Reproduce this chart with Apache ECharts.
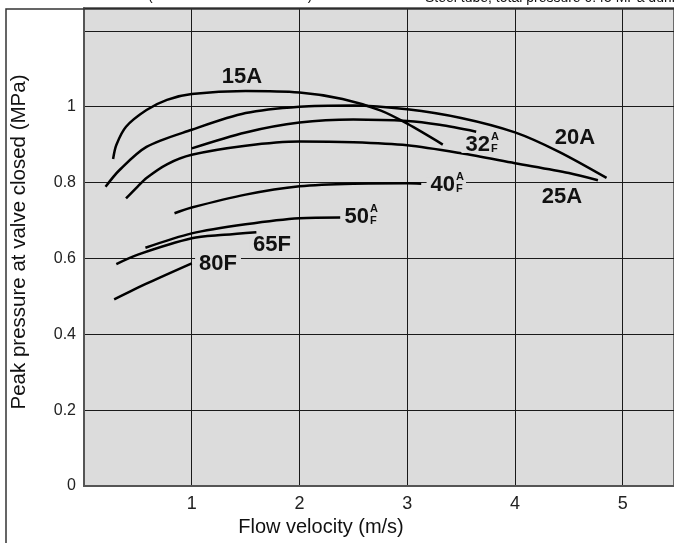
<!DOCTYPE html>
<html>
<head>
<meta charset="utf-8">
<script src="https://cdn.jsdelivr.net/npm/echarts@6/dist/echarts.min.js"></script>
<style>
html,body{margin:0;padding:0;background:#fff;}
#c{width:674px;height:543px;}
</style>
</head>
<body>
<div id="c"></div>
<script>
// ---- data (flow velocity m/s, peak pressure MPa) ----
const seriesNames = ['15A', '20A', '25A', '32A/F', '40A/F', '50A/F', '65F', '80F'];
const x15A = [0.27, 0.30, 0.39, 0.58, 0.77, 1.0, 1.5, 2.0, 2.4, 2.75, 3.0, 3.33];
const y15A = [0.862, 0.899, 0.947, 0.991, 1.018, 1.033, 1.041, 1.037, 1.02, 0.99, 0.955, 0.90];
const x20A = [0.2, 0.33, 0.58, 1.0, 1.5, 2.0, 2.5, 3.0, 3.5, 4.0, 4.4, 4.85];
const y20A = [0.789, 0.833, 0.894, 0.939, 0.983, 1.0, 1.003, 0.993, 0.97, 0.932, 0.882, 0.812];
const x25A = [0.39, 0.5, 0.58, 0.77, 1.0, 1.5, 2.0, 2.5, 3.0, 3.5, 4.0, 4.5, 4.77];
const y25A = [0.758, 0.79, 0.812, 0.848, 0.873, 0.897, 0.908, 0.906, 0.898, 0.877, 0.851, 0.825, 0.806];
const x32A = [1.0, 1.5, 2.0, 2.5, 3.0, 3.3, 3.64];
const y32A = [0.89, 0.932, 0.958, 0.966, 0.962, 0.952, 0.934];
const x40A = [0.84, 1.0, 1.5, 2.0, 2.5, 3.0, 3.13];
const y40A = [0.719, 0.734, 0.768, 0.79, 0.797, 0.798, 0.797];
const x50A = [0.57, 1.0, 1.5, 2.0, 2.38];
const y50A = [0.628, 0.666, 0.69, 0.706, 0.708];
const x65F = [0.3, 0.5, 1.0, 1.3, 1.6];
const y65F = [0.585, 0.61, 0.653, 0.662, 0.669];
const x80F = [0.28, 0.6, 1.0];
const y80F = [0.492, 0.536, 0.587];

const xTickLabels = ['1', '2', '3', '4', '5'];
const yTickLabels = ['0', '0.2', '0.4', '0.6', '0.8', '1'];

// curve annotations (data coordinates)
const labelText = ['15A', '20A', '25A', '32', '40', '50', '65F', '80F'];
const labelSub  = ['', '', '', 'A\nF', 'A\nF', 'A\nF', '', ''];
const labelX = [1.466, 4.557, 4.436, 3.777, 3.453, 2.654, 1.745, 1.244];
const labelY = [1.078, 0.917, 0.762, 0.899, 0.793, 0.710, 0.635, 0.585];

const xs = [x15A, x20A, x25A, x32A, x40A, x50A, x65F, x80F];
const ys = [y15A, y20A, y25A, y32A, y40A, y50A, y65F, y80F];

const FONT = '"Liberation Sans", Arial, Helvetica, sans-serif';
const chart = echarts.init(document.getElementById('c'), null, {renderer: 'canvas'});

function fmtTick(v, arr) {
  const s = String(parseFloat(v.toFixed(1)));
  return arr.indexOf(s) >= 0 ? s : '';
}

const option = {
  animation: false,
  backgroundColor: '#ffffff',
  grid: {
    left: 84, right: 0, top: 8, bottom: 57,
    outerBoundsMode: 'none', containLabel: false,
    show: true, backgroundColor: '#dcdcdc', borderColor: '#444', borderWidth: 1.5
  },
  xAxis: {
    type: 'value', min: 0, max: 5.476, interval: 1,
    axisLine: {show: true, onZero: false, lineStyle: {color: '#555', width: 2}},
    axisTick: {show: false},
    axisLabel: {
      margin: 9, fontSize: 18, color: '#222', fontFamily: FONT,
      formatter: v => fmtTick(v, xTickLabels)
    },
    splitLine: {show: true, lineStyle: {color: '#1a1a1a', width: 1}}
  },
  yAxis: {
    type: 'value', min: 0, max: 1.26, interval: 0.2,
    axisLine: {show: true, onZero: false, lineStyle: {color: '#555', width: 2}},
    axisTick: {show: false},
    axisLabel: {
      margin: 8, fontSize: 16, color: '#222', fontFamily: FONT,
      formatter: v => fmtTick(v, yTickLabels)
    },
    splitLine: {show: true, lineStyle: {color: '#1a1a1a', width: 1}}
  },
  series: seriesNames.map((n, i) => ({
    name: n, type: 'line', smooth: 0.3,
    showSymbol: false, symbol: 'none', z: 5,
    lineStyle: {color: '#000', width: 2.5, cap: 'butt'},
    data: xs[i].map((x, j) => [x, ys[i][j]])
  }))
};
chart.setOption(option);

// annotations and frame
const g = [];
g.push({
  type: 'rect', silent: true, z: 1,
  shape: {x: 6, y: 9, width: 720, height: 600},
  style: {fill: 'none', stroke: '#333', lineWidth: 1.5}
});
g.push({
  type: 'text', silent: true, z: 10, x: 148, y: -4,
  style: {text: '(Water hammer reference)', font: '14px ' + FONT, fill: '#111', textVerticalAlign: 'middle'}
});
g.push({
  type: 'text', silent: true, z: 10, x: 425, y: -2,
  style: {text: 'Steel tube, total pressure 0.45 MPa during water flow', font: '14px ' + FONT, fill: '#111', textVerticalAlign: 'middle'}
});
g.push({
  type: 'text', silent: true, z: 10, x: 321, y: 527,
  style: {text: 'Flow velocity (m/s)', font: '20px ' + FONT, fill: '#111', textAlign: 'center', textVerticalAlign: 'middle'}
});
g.push({
  type: 'text', silent: true, z: 10, x: 19, y: 242, rotation: Math.PI / 2,
  style: {text: 'Peak pressure at valve closed (MPa)', font: '20.5px ' + FONT, fill: '#111', textAlign: 'center', textVerticalAlign: 'middle'}
});
labelText.forEach((t, i) => {
  const p = chart.convertToPixel({gridIndex: 0}, [labelX[i], labelY[i]]);
  const hasSub = labelSub[i] !== '';
  g.push({
    type: 'text', silent: true, z: 20, x: p[0], y: p[1],
    style: {
      text: t, font: 'bold 22px ' + FONT, fill: '#111',
      textAlign: hasSub ? 'right' : 'center', textVerticalAlign: 'middle',
      backgroundColor: '#dcdcdc', padding: hasSub ? [0, 1, 0, 4] : [0, 4], lineHeight: 16
    }
  });
  if (hasSub) {
    g.push({
      type: 'text', silent: true, z: 20, x: p[0], y: p[1] - 2,
      style: {
        text: labelSub[i], font: 'bold 11px ' + FONT, fill: '#111',
        textAlign: 'left', textVerticalAlign: 'middle',
        backgroundColor: '#dcdcdc', padding: [0, 2, 0, 0], lineHeight: 12
      }
    });
  }
});
chart.setOption({graphic: g});
</script>
</body>
</html>
